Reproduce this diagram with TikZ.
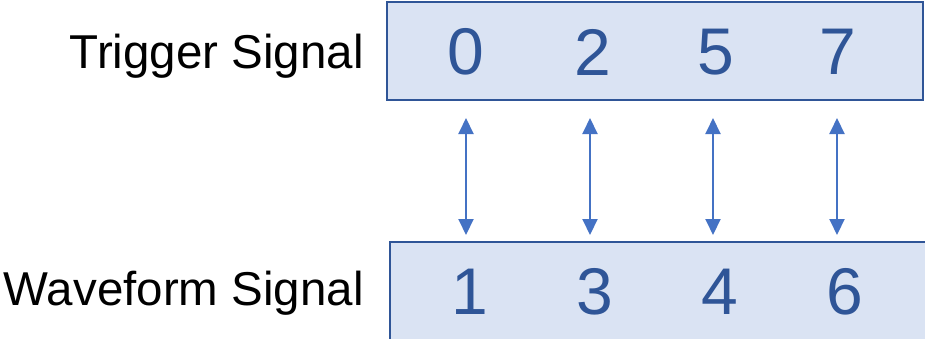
\documentclass[tikz,border=0pt]{standalone}
\usepackage{fontspec}
\setmainfont{Liberation Sans}
\usetikzlibrary{arrows.meta}
\definecolor{boxfill}{HTML}{DAE3F3}
\definecolor{boxline}{HTML}{2F5597}
\definecolor{arrowblue}{HTML}{4472C4}
\tikzset{
  sigbox/.style={draw=boxline, fill=boxfill, line width=2.5pt},
  digit/.style={text=boxline, font=\fontsize{66}{66}\selectfont, inner sep=0pt},
  siglabel/.style={anchor=base east, font=\fontsize{47.5}{47.5}\selectfont, inner sep=0pt},
  link/.style={draw=arrowblue, line width=2pt, {Triangle[length=16pt,width=15pt]}-{Triangle[length=16pt,width=15pt]}}
}
\begin{document}
\begin{tikzpicture}[x=1pt,y=-1pt]
\useasboundingbox (0,0) rectangle (925,338);
\begin{scope}
\clip (0,0) rectangle (925,338);
% signal boxes
\path[sigbox] (387,2) rectangle (923,100);
\path[sigbox] (390,242) rectangle (930,350);
\end{scope}
% row labels
\node[siglabel] (trig) at (364,68) {Trigger Signal};
\node[siglabel] (wave) at (364,305) {Waveform Signal};
% trigger values
\node[digit] (t0) at (466,52) {0};
\node[digit] (t2) at (593,52) {2};
\node[digit] (t5) at (716,52) {5};
\node[digit] (t7) at (838,52) {7};
% waveform values
\node[digit] (w1) at (470,292) {1};
\node[digit] (w3) at (595,292) {3};
\node[digit] (w4) at (720,292) {4};
\node[digit] (w6) at (845,292) {6};
% correspondence arrows
\coordinate (a0) at (466,118); \coordinate (b0) at (466,235);
\coordinate (a1) at (590,118); \coordinate (b1) at (590,235);
\coordinate (a2) at (713,118); \coordinate (b2) at (713,235);
\coordinate (a3) at (837,118); \coordinate (b3) at (837,235);
\draw[link] (a0) -- (b0);
\draw[link] (a1) -- (b1);
\draw[link] (a2) -- (b2);
\draw[link] (a3) -- (b3);
\end{tikzpicture}
\end{document}
